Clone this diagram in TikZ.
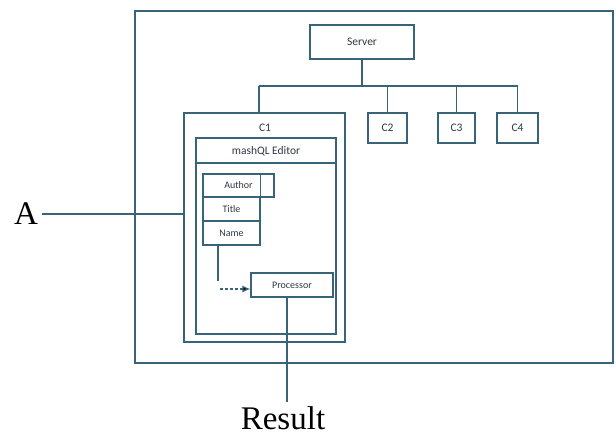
\documentclass[tikz,border=0pt]{standalone}
\usepackage{fontspec}
\setmainfont{Liberation Serif}
\newfontfamily\labelfont{Carlito}
\usetikzlibrary{arrows.meta,calc}
\definecolor{linec}{RGB}{55,100,120}
\definecolor{textc}{RGB}{45,55,65}
\begin{document}
\begin{tikzpicture}[x=1pt,y=-1pt,
    box/.style={draw=linec,line width=1.2pt,inner sep=0pt,font=\labelfont\fontsize{11.5}{13}\selectfont,text=textc},
    fld/.style={box,font=\labelfont\fontsize{10}{12}\selectfont},
    wire/.style={draw=linec,line width=1.2pt},
    big/.style={font=\fontsize{33}{36}\selectfont,inner sep=0pt}]
  \useasboundingbox (0,0) rectangle (616,437);
  % the server and its clients
  \node[box,minimum width=478,minimum height=352] (frame) at (374,187) {};
  \node[box,minimum width=104,minimum height=34] (server) at (362,42) {Server};
  \node[box,minimum width=39,minimum height=30] (c2) at (387.5,128) {C2};
  \node[box,minimum width=37,minimum height=30] (c3) at (456.5,128) {C3};
  \node[box,minimum width=41,minimum height=30] (c4) at (517.5,128) {C4};
  \node[box,minimum width=161,minimum height=229] (c1) at (264.5,227.5) {};
  \node[box,draw=none] (c1lbl) at (265,128) {C1};
  \coordinate (busl) at (259,86);
  \coordinate (busr) at (c4.north |- busl);
  \draw[wire] (server.south) -- (server.south |- busl);
  \draw[wire] (busl) -- (busr);
  \draw[wire] (busl) -- (busl |- c1.north);
  \foreach \c in {c2,c3,c4}{
    \draw[wire] (\c.north) -- (\c.north |- busl);
  }
  % the editor
  \node[box,minimum width=140,minimum height=196] (editor) at (266,236) {};
  \node[box,draw=none] (edlbl) at (266,151) {mashQL Editor};
  \draw[wire] (editor.west |- 0,163) -- (editor.east |- 0,163);
  \node[fld,minimum width=71,minimum height=23] (author) at (238.5,185.5) {Author};
  \node[fld,minimum width=57,minimum height=24] (title) at (231.5,209) {Title};
  \node[fld,minimum width=57,minimum height=24] (name) at (231.5,233) {Name};
  \draw[wire] (title.north east) -- (title.north east |- author.north);
  \node[fld,minimum width=82,minimum height=24] (proc) at (292,285) {Processor};
  \coordinate (bend) at (218,289);
  \draw[wire] (name.south -| bend) -- ++(0,35);
  \draw[wire,dash pattern=on 3pt off 2pt,-{Latex[length=8pt,width=7pt,fill=black]}] ($(bend)+(2,0)$) -- (bend -| proc.west);
  % input and output
  \node[big] (a) at (26,214) {A};
  \draw[wire] ($(a.east)+(4,0)$) -- (a.east -| c1.west);
  \node[big] (result) at (283,418) {Result};
  \coordinate (out) at (287,402);
  \draw[wire] (proc.south -| out) -- (out);
\end{tikzpicture}
\end{document}
